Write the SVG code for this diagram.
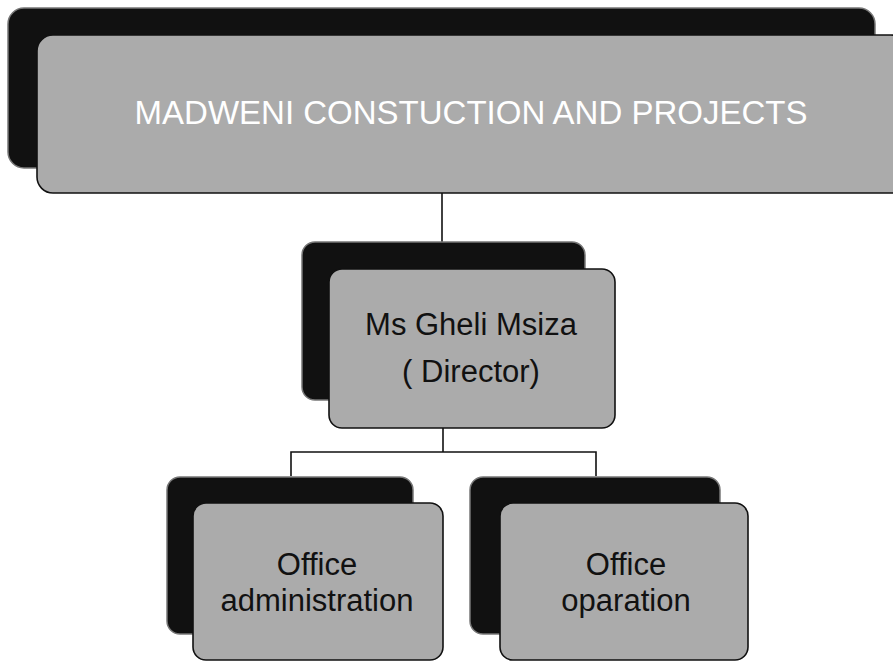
<svg xmlns="http://www.w3.org/2000/svg" width="893" height="661" viewBox="0 0 893 661">
<style>
.back{fill:#111111;stroke:#777777;stroke-width:1.5}
.front{fill:#ababab;stroke:#111111;stroke-width:1.6}
.conn{fill:none;stroke:#111111;stroke-width:1.6}
.t{font-family:"Liberation Sans",Arial,sans-serif;text-anchor:middle;fill:#111111;font-size:31px}
.tw{font-family:"Liberation Sans",Arial,sans-serif;text-anchor:middle;fill:#ffffff;font-size:33px}
</style>
<rect width="893" height="661" fill="#ffffff"/>
<g id="connectors">
<line class="conn" x1="442" y1="193" x2="442" y2="243"/>
<polyline class="conn" points="443,428 443,452"/>
<polyline class="conn" points="291,476 291,452 596,452 596,476"/>
</g>
<g id="company">
<rect class="back" x="8" y="8" width="867" height="160" rx="16"/>
<rect class="front" x="37" y="35" width="870" height="158" rx="16"/>
<text class="tw" x="471" y="124">MADWENI CONSTUCTION AND PROJECTS</text>
</g>
<g id="director">
<rect class="back" x="302" y="242" width="283" height="158" rx="13"/>
<rect class="front" x="329" y="269" width="286" height="159" rx="13"/>
<text class="t" x="471" y="335" font-size="32">Ms Gheli Msiza</text>
<text class="t" x="471" y="382" font-size="32">( Director)</text>
</g>
<g id="office-administration">
<rect class="back" x="167" y="477" width="246" height="157" rx="13"/>
<rect class="front" x="193" y="503" width="250" height="157" rx="13"/>
<text class="t" x="317" y="575">Office</text>
<text class="t" x="317" y="611">administration</text>
</g>
<g id="office-operation">
<rect class="back" x="470" y="477" width="250" height="157" rx="13"/>
<rect class="front" x="500" y="503" width="248" height="157" rx="13"/>
<text class="t" x="626" y="575">Office</text>
<text class="t" x="626" y="611">oparation</text>
</g>
</svg>
